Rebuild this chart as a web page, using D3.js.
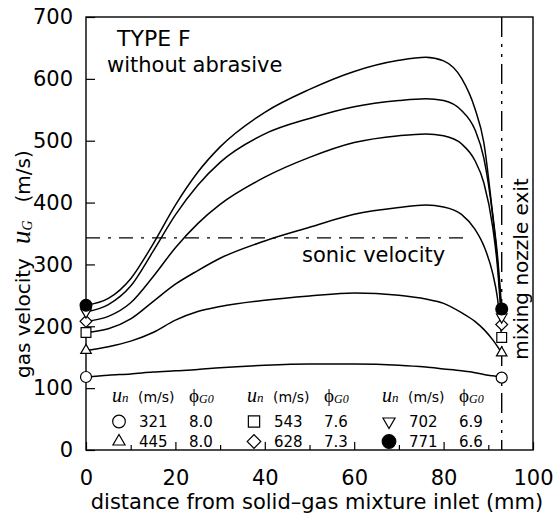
<!DOCTYPE html>
<html><head><meta charset="utf-8">
<script src="https://cdn.jsdelivr.net/npm/d3@7"></script>
<style>body{margin:0;background:#fff}svg{display:block}</style>
</head><body>
<svg id="c" width="560" height="518"></svg>
<script>
// ---- data ----
const distance = [0,5,10,15,20,25,30,40,50,60,70,76,80,84,87,89,91,92,93];
const v321 = [118,121,123,126,128,130,133,137,139,139,137,134,131,128,125,122,120,119,117];
const v445 = [161,167,176,190,210,224,232,242,249,254,250,244,237,222,208,195,178,168,157];
const v543 = [190,196,212,240,268,290,310,338,360,381,392,396,393,381,357,330,285,248,182];
const v628 = [208,216,238,280,327,366,397,441,473,497,508,511,508,495,468,432,360,300,203];
const v702 = [223,235,265,321,380,428,465,511,536,555,565,568,565,549,518,472,378,310,215];
const v771 = [234,245,277,333,396,449,490,546,583,612,630,635,629,601,552,497,380,318,228];
const un = [321,445,543,628,702,771];
const phiG0 = ["8.0","8.0","7.6","7.3","6.9","6.6"];
const seriesValues = [v321,v445,v543,v628,v702,v771];
const exitDistance = 93;
const sonicVelocity = 343;
const sonicEnd = 85.5;
const xTicks = [0,20,40,60,80,100];
const xMinorTicks = [10,30,50,70,90];
const yTicks = [0,100,200,300,400,500,600,700];

// ---- drawing ----
const svg = d3.select("#c");
const F = "DejaVu Sans";
const SERIF = "Liberation Serif, DejaVu Serif, serif";
const x = d3.scaleLinear().domain([0,100]).range([86,533]);
const y = d3.scaleLinear().domain([0,700]).range([450,17]);

const yg = svg.append("g").attr("transform","translate(86,0)")
  .call(d3.axisLeft(y).tickValues(yTicks).tickSize(-9).tickPadding(13).tickFormat(d3.format("d")));
yg.select(".domain").remove();
yg.attr("font-size",21).attr("font-family",F);
yg.selectAll("line").attr("stroke-width",1.2);

const xg = svg.append("g").attr("transform","translate(0,450)")
  .call(d3.axisBottom(x).tickValues(xTicks).tickSize(-8).tickPadding(20).tickFormat(d3.format("d")));
xg.select(".domain").remove();
xg.attr("font-size",21).attr("font-family",F);
xg.selectAll("line").attr("stroke-width",1.2);

const xm = svg.append("g").attr("transform","translate(0,450)")
  .call(d3.axisBottom(x).tickValues(xMinorTicks).tickSize(-5).tickFormat(""));
xm.select(".domain").remove();
xm.selectAll("line").attr("stroke-width",1.2);

// frame
svg.append("rect").attr("x",x(0)).attr("y",y(700)).attr("width",x(100)-x(0)).attr("height",y(0)-y(700))
  .attr("fill","none").attr("stroke","#000").attr("stroke-width",1.4);

// sonic line
svg.append("line").attr("x1",x(0)).attr("x2",x(sonicEnd)).attr("y1",y(sonicVelocity)).attr("y2",y(sonicVelocity))
  .attr("stroke","#000").attr("stroke-width",1.2).attr("stroke-dasharray","14,8,3,8");
// exit line
svg.append("line").attr("x1",x(exitDistance)).attr("x2",x(exitDistance)).attr("y1",y(700)).attr("y2",y(0))
  .attr("stroke","#000").attr("stroke-width",1.4).attr("stroke-dasharray","20,7,3,7,3,7");

// curves
const line = d3.line().x((d,i)=>x(distance[i])).y(d=>y(d)).curve(d3.curveMonotoneX);
seriesValues.forEach(v=>{
  svg.append("path").attr("d",line(v)).attr("fill","none").attr("stroke","#000").attr("stroke-width",1.5);
});

// symbols
function drawSym(g, i, cx, cy, s){
  const k = s||1;
  let p, rot=0, fill="#fff";
  if(i===0){p=d3.symbol(d3.symbolCircle, 95*k*k)();}
  else if(i===1){p=d3.symbol(d3.symbolTriangle, 48*k*k)();}
  else if(i===2){p=d3.symbol(d3.symbolSquare, 96*k*k)();}
  else if(i===3){p=d3.symbol(d3.symbolSquare, 70*k*k)(); rot=45;}
  else if(i===4){p=d3.symbol(d3.symbolTriangle, 48*k*k)(); rot=180;}
  else {p=d3.symbol(d3.symbolCircle, 110*k*k)(); fill="#000";}
  g.append("path").attr("d",p).attr("transform",`translate(${cx},${cy}) rotate(${rot})`)
    .attr("fill",fill).attr("stroke","#000").attr("stroke-width",1.2);
}
seriesValues.forEach((v,i)=>{
  drawSym(svg, i, x(distance[0]), y(v[0]));
  drawSym(svg, i, x(distance[distance.length-1]), y(v[v.length-1]));
});

// texts
svg.append("text").attr("x",117).attr("y",46).attr("font-family",F).attr("font-size",22).text("TYPE F");
svg.append("text").attr("x",107).attr("y",72).attr("font-family",F).attr("font-size",21).text("without abrasive");
svg.append("text").attr("x",302).attr("y",262).attr("font-family",F).attr("font-size",21).text("sonic velocity");
svg.append("text").attr("transform","translate(528,269) rotate(-90)").attr("text-anchor","middle")
  .attr("font-family",F).attr("font-size",20).text("mixing nozzle exit");
svg.append("text").attr("x",317).attr("y",509).attr("text-anchor","middle")
  .attr("font-family",F).attr("font-size",21).text("distance from solid\u2013gas mixture inlet (mm)");

const yt = svg.append("text").attr("transform","translate(30,378) rotate(-90)").attr("font-family",F).attr("font-size",20);
yt.append("tspan").text("gas velocity");
yt.append("tspan").attr("dx",14).attr("font-family",SERIF).attr("font-style","italic").attr("font-size",27).text("u");
yt.append("tspan").attr("font-family",SERIF).attr("font-style","italic").attr("font-size",14).attr("dy",2).text("G");
yt.append("tspan").attr("dx",18).attr("dy",-2).attr("font-size",20).text("(m/s)");

// legend
const colX = [112,247,382];
const rowY = [427,447];
colX.forEach(cx=>{
  const h = svg.append("text").attr("x",cx).attr("y",402).attr("font-family",SERIF).attr("font-style","italic");
  h.append("tspan").attr("font-size",20).text("u");
  h.append("tspan").attr("font-size",13).text("n");
  svg.append("text").attr("x",cx+26).attr("y",402).attr("font-family",F).attr("font-size",14).text("(m/s)");
  const p = svg.append("text").attr("x",cx+77).attr("y",402).attr("font-family",SERIF).attr("font-style","italic");
  p.append("tspan").attr("font-size",19).attr("font-style","normal").text("\u03D5");
  p.append("tspan").attr("font-size",12).attr("dy",1).text("G0");
});
un.forEach((u,i)=>{
  const cx = colX[Math.floor(i/2)], ry = rowY[i%2];
  drawSym(svg, i, cx+7, ry-5.5, 1.15);
  svg.append("text").attr("x",cx+27).attr("y",ry).attr("font-family",F).attr("font-size",15).text(u);
  svg.append("text").attr("x",cx+77).attr("y",ry).attr("font-family",F).attr("font-size",15).text(phiG0[i]);
});
</script>
</body></html>
